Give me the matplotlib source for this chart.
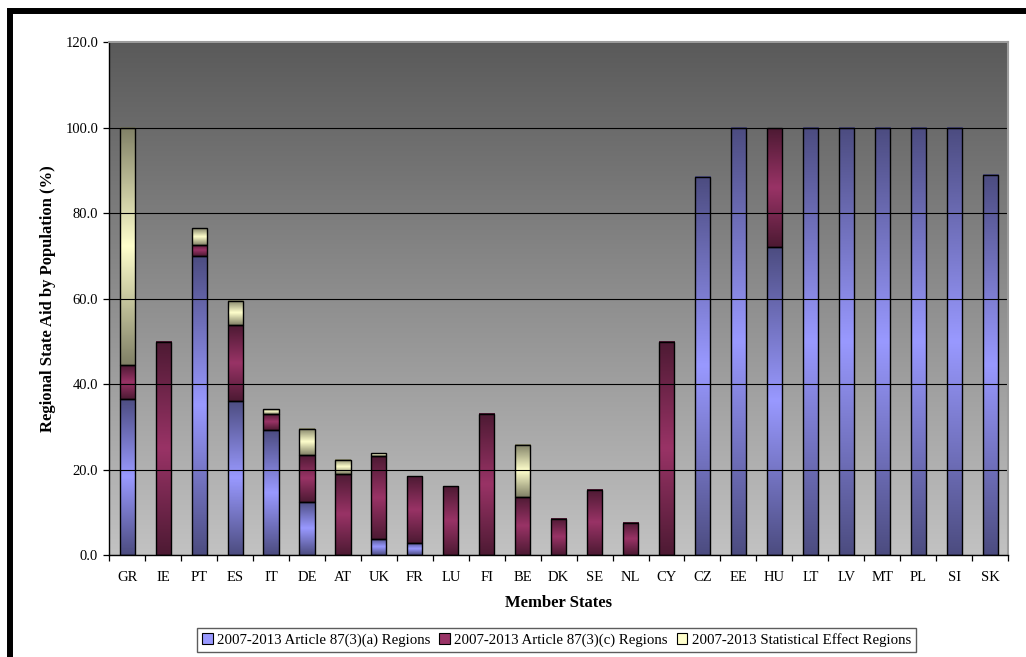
import numpy as np
import matplotlib
matplotlib.use("Agg")
import matplotlib.pyplot as plt
from matplotlib.colors import to_rgb
from matplotlib.patches import Patch, Rectangle

# Share of population covered by regional state aid, 2007-2013 (%)
states = ["GR", "IE", "PT", "ES", "IT", "DE", "AT", "UK", "FR", "LU", "FI", "BE", "DK",
          "SE", "NL", "CY", "CZ", "EE", "HU", "LT", "LV", "MT", "PL", "SI", "SK"]
art_a = [36.6, 0, 70.1, 36.2, 29.2, 12.5, 0, 3.9, 2.9, 0, 0, 0, 0,
         0, 0, 0, 88.6, 100, 72.2, 100, 100, 100, 100, 100, 88.9]
art_c = [7.9, 50.0, 2.6, 17.7, 3.9, 11.0, 19.0, 19.3, 15.6, 16.1, 33.0, 13.6, 8.6,
         15.3, 7.6, 50.0, 0, 0, 27.8, 0, 0, 0, 0, 0, 0]
stat_eff = [55.5, 0, 3.9, 5.7, 1.1, 6.1, 3.4, 0.7, 0, 0, 0, 12.3, 0,
            0, 0, 0, 0, 0, 0, 0, 0, 0, 0, 0, 0]
series_names = ["2007-2013 Article 87(3)(a) Regions",
                "2007-2013 Article 87(3)(c) Regions",
                "2007-2013 Statistical Effect Regions"]
y_ticks = [0, 20, 40, 60, 80, 100, 120]

# (light centre colour, dark edge colour) for each series
palette = [("#9999ff", "#4c4c80"), ("#993366", "#4d1a33"), ("#ffffcc", "#808066")]

plt.rcParams["font.family"] = ["Liberation Serif", "DejaVu Serif"]

fig = plt.figure(figsize=(10.26, 6.57), dpi=100)
fig.patch.set_facecolor("white")
ax = fig.add_axes([0.1065, 0.1548, 0.8760, 0.7808])

# plot-area background: dark grey at the top fading to light grey at the bottom
bg = np.linspace(0, 1, 256).reshape(-1, 1)
top_c, bot_c = np.array(to_rgb("#5a5a5a")), np.array(to_rgb("#c2c2c2"))
bg_img = top_c[None, None, :] * (1 - bg[..., None]) + bot_c[None, None, :] * bg[..., None]
ax.imshow(bg_img, extent=[0, 1, 0, 1], transform=ax.transAxes, aspect="auto",
          zorder=0, interpolation="bilinear")


def gradient_fill(patch, light, dark):
    x, y = patch.get_x(), patch.get_y()
    w, h = patch.get_width(), patch.get_height()
    t = np.abs(np.linspace(-1, 1, 200)).reshape(-1, 1)
    lc, dc = np.array(to_rgb(light)), np.array(to_rgb(dark))
    img = lc[None, None, :] * (1 - t[..., None]) + dc[None, None, :] * t[..., None]
    ax.imshow(img, extent=[x, x + w, y, y + h], aspect="auto",
              interpolation="bilinear", zorder=2)


xpos = np.arange(len(states))
bottom = np.zeros(len(states))
for vals, (light, dark) in zip([art_a, art_c, stat_eff], palette):
    vals = np.array(vals, dtype=float)
    bars = ax.bar(xpos, vals, width=0.42, bottom=bottom, facecolor="none",
                  edgecolor="black", linewidth=1.0, zorder=3)
    for patch, v in zip(bars.patches, vals):
        if v <= 0:
            patch.set_visible(False)
            continue
        gradient_fill(patch, light, dark)
    bottom += vals

ax.set_xlim(-0.5, len(states) - 0.5)
ax.set_ylim(0, 120)

# y axis
ax.set_yticks(y_ticks)
ax.set_yticklabels([f"{v:.1f}" for v in y_ticks])
ax.yaxis.grid(True, color="black", linewidth=0.8, zorder=1)
ax.set_axisbelow(False)
for gl in ax.get_ygridlines():
    gl.set_zorder(1)

# x axis: tick marks between categories, labels centred under bars
ax.set_xticks(np.arange(-0.5, len(states), 1.0))
ax.set_xticklabels([])
ax.set_xticks(xpos, minor=True)
ax.set_xticklabels(states, minor=True)
ax.tick_params(axis="x", which="major", direction="out", length=4, width=0.9, color="black")
ax.tick_params(axis="x", which="minor", length=0, pad=11, labelsize=10.5)
ax.tick_params(axis="y", direction="out", length=4, width=0.9, pad=4, labelsize=10.5)

for side in ("left", "bottom"):
    ax.spines[side].set_color("black")
    ax.spines[side].set_linewidth(1.0)
for side in ("top", "right"):
    ax.spines[side].set_color("#9c9c9c")
    ax.spines[side].set_linewidth(1.5)
for sp in ax.spines.values():
    sp.set_zorder(4)

ax.set_xlabel("Member States", fontsize=12, fontweight="bold", labelpad=8)
ax.set_ylabel("Regional State Aid by Population (%)", fontsize=12, fontweight="bold",
              labelpad=7)

handles = [Patch(facecolor=light, edgecolor="black", linewidth=0.8) for light, _ in palette]
leg = fig.legend(handles, series_names, loc="center", bbox_to_anchor=(0.5424, 0.026),
                 ncol=3, fontsize=10.75, frameon=True, fancybox=False, shadow=False,
                 handlelength=0.7, handleheight=0.7, handletextpad=0.3,
                 columnspacing=0.6, borderpad=0.35, borderaxespad=0)
leg.get_frame().set_edgecolor("#333333")
leg.get_frame().set_linewidth(1.0)

# thick black page frame
fig.patches.append(Rectangle((10.0 / 1026, -0.1), 1.2, 1 - 10.5 / 657 + 0.1,
                             transform=fig.transFigure, fill=False,
                             edgecolor="black", linewidth=4.3, zorder=10))

fig.savefig("out.png", dpi=100)
